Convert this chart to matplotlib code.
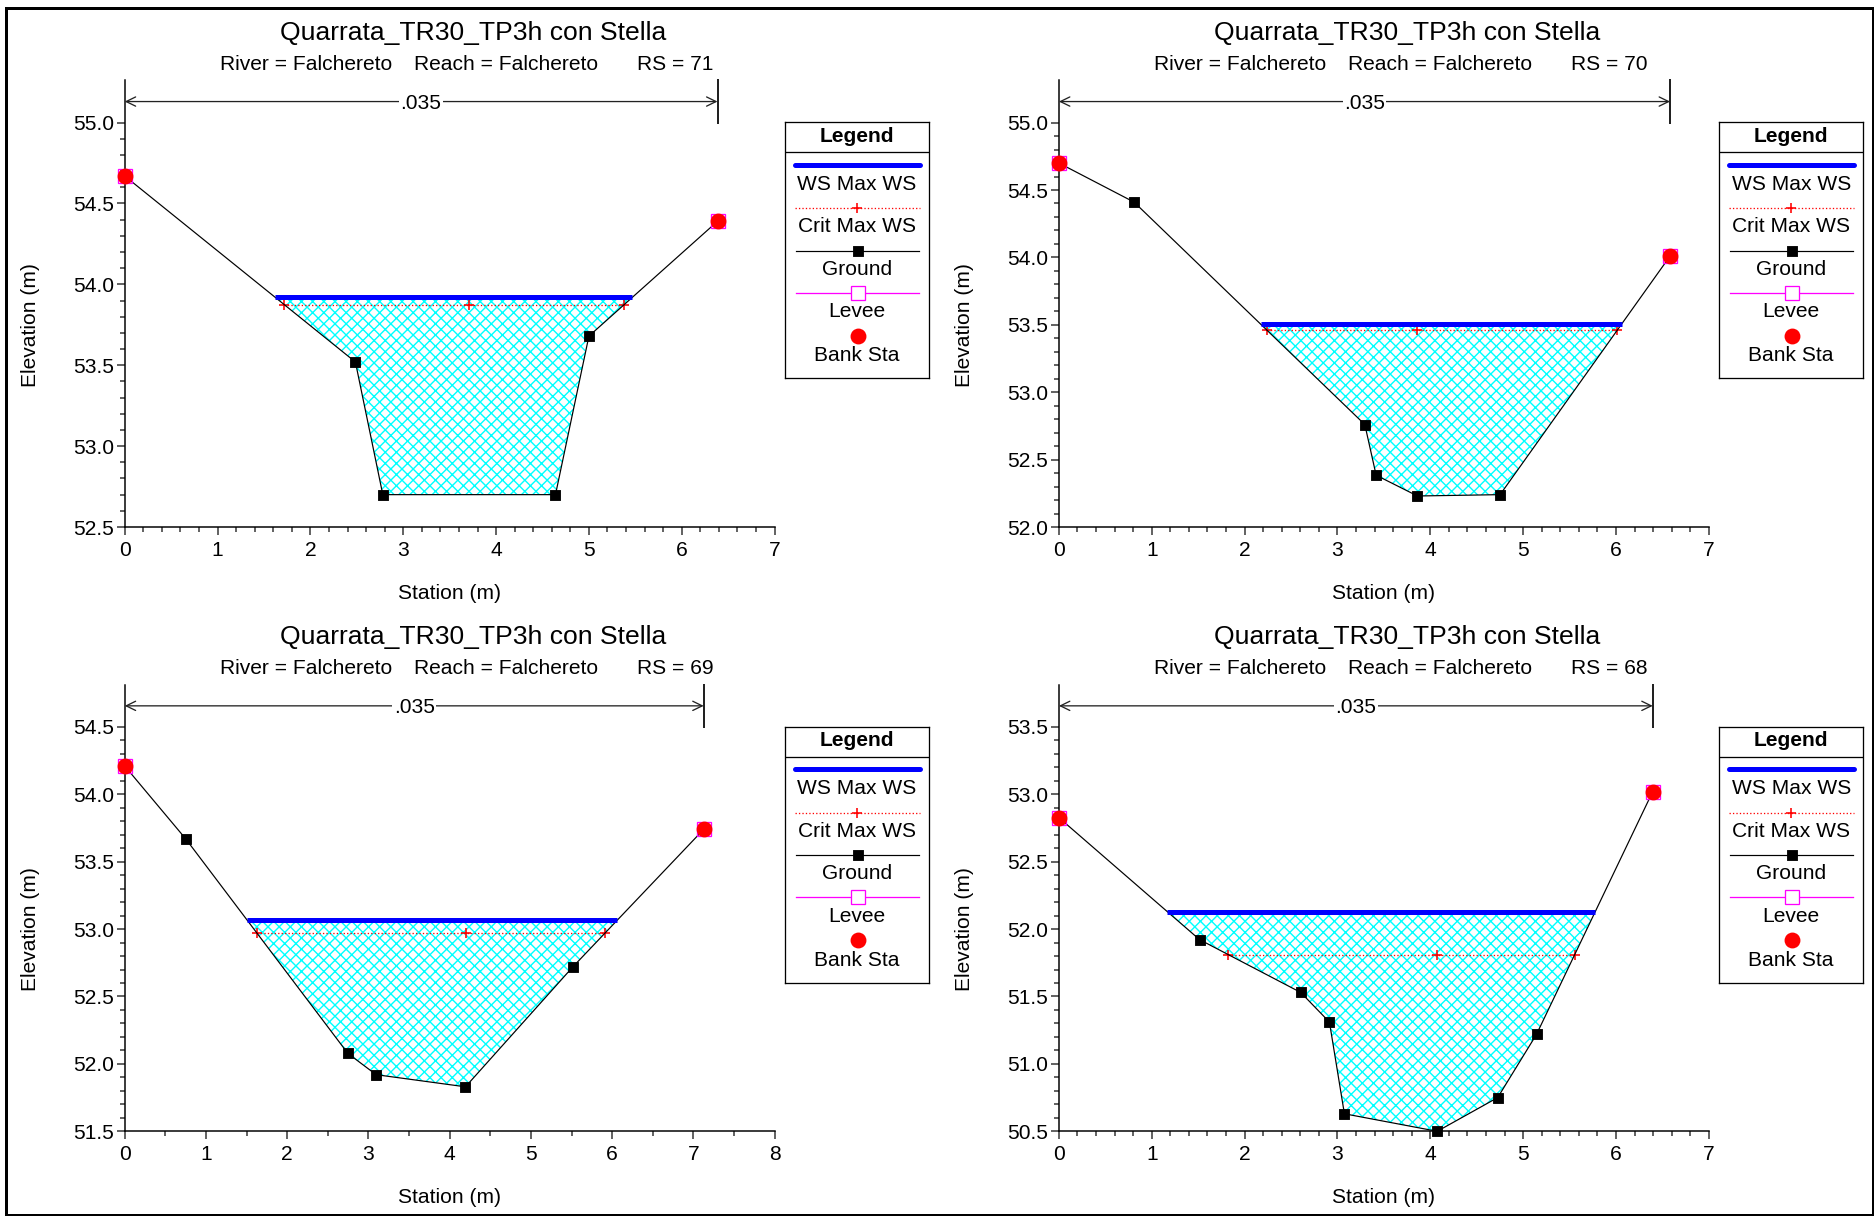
import numpy as np
import matplotlib
matplotlib.use("Agg")
import matplotlib.pyplot as plt
from matplotlib.patches import Rectangle

W, H = 1874, 1216
DPI = 134


def px(v):
    # pixels -> points
    return v * 72 / DPI


plt.rcParams['font.family'] = ['Liberation Sans', 'DejaVu Sans']
plt.rcParams['hatch.linewidth'] = px(1.4)
plt.rcParams['hatch.color'] = '#00FFFF'

#cross section data
plan = "Quarrata_TR30_TP3h con Stella"
river = "Falchereto"
reach = "Falchereto"
n_value = ".035"

rs_list = ["71", "70", "69", "68"]

sta_71 = [0.0, 2.485, 2.78, 4.64, 5.0, 6.385]
elev_71 = [54.67, 53.52, 52.70, 52.70, 53.68, 54.39]

sta_70 = [0.0, 0.81, 3.295, 3.417, 3.862, 4.752, 6.583]
elev_70 = [54.70, 54.41, 52.76, 52.384, 52.23, 52.24, 54.01]

sta_69 = [0.0, 0.753, 2.747, 3.095, 4.195, 5.517, 7.127]
elev_69 = [54.21, 53.668, 52.078, 51.92, 51.83, 52.72, 53.74]

sta_68 = [0.0, 1.515, 2.605, 2.914, 3.075, 4.075, 4.726, 5.145, 6.396]
elev_68 = [52.827, 51.922, 51.53, 51.31, 50.63, 50.50, 50.75, 51.22, 53.02]

ws_max = [53.92, 53.506, 53.066, 52.13]
crit_max = [53.875, 53.46, 52.97, 51.81]
crit_mid = [3.71, 3.862, 4.20, 4.075]

y_min = [52.5, 52.0, 51.5, 50.5]
y_max = [55.0, 55.0, 54.5, 53.5]
x_max = [7, 7, 8, 7]
x_minor = [0.2, 0.2, 0.5, 0.2]

legend_labels = ["WS Max WS", "Crit Max WS", "Ground", "Levee", "Bank Sta"]

BLUE = '#0000FF'
RED = '#FF0000'
CYAN = '#00FFFF'
MAGENTA = '#FF00FF'

FS = px(21)      # normal text
FS_T = px(26.5)  # plot title

fig = plt.figure(figsize=(W / DPI + 1e-6, H / DPI + 1e-6), dpi=DPI)


#axes from pixel box (top-left origin)
def add_ax(left, top, right, bottom):
    return fig.add_axes([left / W, 1 - bottom / H, (right - left) / W, (bottom - top) / H])


def crossings(sta, elev, level):
    xs = []
    for i in range(len(sta) - 1):
        e0, e1 = elev[i], elev[i + 1]
        if (e0 - level) * (e1 - level) < 0:
            xs.append(sta[i] + (level - e0) / (e1 - e0) * (sta[i + 1] - sta[i]))
    return xs[0], xs[-1]


def draw_panel(ox, oy, rs, sta, elev, ws, crit, cmid, ymin, ymaxm, xmax, xmin_step):
    sta = np.array(sta)
    elev = np.array(elev)
    ax = add_ax(124.7 + ox, 80.5 + oy, 774.6 + ox, 527 + oy)
    ytop = ymaxm + (ymaxm - ymin) * 42.1 / 404.4
    ax.set_xlim(0, xmax)
    ax.set_ylim(ymin, ytop)

    #water area (hatch cell ~11 px)
    ax.fill_between(sta, elev, ws, where=elev < ws, interpolate=True,
                    facecolor='none', edgecolor=CYAN, hatch='xxxx', linewidth=0, zorder=1)

    #crit
    cl, cr = crossings(sta, elev, crit)
    ax.plot([cl, cr], [crit, crit], color=RED, ls=':', lw=px(1.3), zorder=2)
    ax.plot([cl, cmid, cr], [crit] * 3, ls='none', marker='+', ms=px(10), mew=px(1.6),
            color=RED, zorder=3)

    #ws
    wl, wr = crossings(sta, elev, ws)
    ax.plot([wl, wr], [ws, ws], color=BLUE, lw=px(5), solid_capstyle='butt', zorder=5)

    #ground, levee, bank stations
    ax.plot(sta, elev, color='black', lw=px(1.2), marker='s', ms=px(9), zorder=4, clip_on=False)
    ax.plot(sta[[0, -1]], elev[[0, -1]], ls='none', marker='s', ms=px(14), mfc='none',
            mec=MAGENTA, mew=px(1.3), zorder=6, clip_on=False)
    ax.plot(sta[[0, -1]], elev[[0, -1]], ls='none', marker='o', ms=px(14), color=RED,
            mec=RED, zorder=7, clip_on=False)

    #n value band
    ya = (ymaxm + ytop) / 2
    ax.annotate('', xy=(0, ya), xytext=(sta[-1], ya),
                arrowprops=dict(arrowstyle='<->,head_length=0.45,head_width=0.22',
                                lw=px(1.3), color='#222222', shrinkA=0, shrinkB=0,
                                mutation_scale=px(21)), zorder=8)
    ax.plot([sta[-1], sta[-1]], [ymaxm, ytop], color='#222222', lw=px(2), zorder=8, clip_on=False)
    ax.text(sta[-1] / 2, ya, n_value, ha='center', va='center_baseline', fontsize=FS, zorder=9,
            bbox=dict(facecolor='white', edgecolor='none', pad=px(1.5)))

    #axes styling
    for s in ['top', 'right']:
        ax.spines[s].set_visible(False)
    for s in ['left', 'bottom']:
        ax.spines[s].set_linewidth(px(1.5))
    ax.set_yticks(np.arange(ymin, ymaxm + 0.01, 0.5))
    ax.set_yticks(np.arange(ymin, ymaxm + 0.01, 0.1), minor=True)
    ax.set_yticklabels(['%.1f' % v for v in np.arange(ymin, ymaxm + 0.01, 0.5)])
    ax.set_xticks(np.arange(0, xmax + 1))
    ax.set_xticks(np.arange(0, xmax + 0.01, xmin_step), minor=True)
    ax.tick_params(which='major', direction='out', length=px(8), width=px(1.5),
                   labelsize=FS, color='#333333')
    ax.tick_params(which='minor', direction='out', length=px(5), width=px(1.5), color='#333333')
    ax.tick_params(axis='y', pad=px(2.8))
    ax.tick_params(axis='x', pad=px(5.6))

    ax.set_xlabel("Station (m)", fontsize=FS)
    ax.xaxis.set_label_coords(0.5, -(593 - 527) / 446.5)
    ax.xaxis.label.set_va('center')
    ax.set_ylabel("Elevation (m)", fontsize=FS)
    ax.yaxis.set_label_coords((30 - 124.7) / 649.9, (527 - 325) / 446.5)
    ax.yaxis.label.set_va('center')

    #titles
    fig.text((472.8 + ox) / W, 1 - (40 + oy) / H, plan, fontsize=FS_T, ha='center', va='baseline')
    sub_y = 1 - (70 + oy) / H
    fig.text((220 + ox) / W, sub_y, "River = " + river, fontsize=FS, va='baseline')
    fig.text((413.7 + ox) / W, sub_y, "Reach = " + reach, fontsize=FS, va='baseline')
    fig.text((637 + ox) / W, sub_y, "RS = " + rs, fontsize=FS, va='baseline')

    #legend box
    lg = add_ax(785 + ox, 122.3 + oy, 929 + ox, 378.3 + oy)
    lg.set_xlim(0, 144)
    lg.set_ylim(256, 0)
    lg.set_xticks([])
    lg.set_yticks([])
    for s in lg.spines.values():
        s.set_linewidth(px(1.3))
    lg.plot([0, 144], [30, 30], color='black', lw=px(1.3))
    lg.text(72, 14, "Legend", ha='center', va='center', fontsize=FS, fontweight='bold')
    lg.plot([10, 135], [42.7, 42.7], color=BLUE, lw=px(5), solid_capstyle='round')
    lg.plot([10, 135], [86, 86], color=RED, ls=':', lw=px(1.3))
    lg.plot([72], [86], marker='+', ms=px(10), mew=px(1.6), color=RED)
    lg.plot([11, 134], [128.4, 128.4], color='black', lw=px(1.2))
    lg.plot([72.5], [128.4], marker='s', ms=px(9), color='black')
    lg.plot([11, 134], [170.7, 170.7], color=MAGENTA, lw=px(1.3))
    lg.plot([72.5], [170.7], marker='s', ms=px(14), mfc='white', mec=MAGENTA, mew=px(1.3))
    lg.plot([72.5], [213.4], marker='o', ms=px(14), color=RED)
    for lab, yy in zip(legend_labels, [61.7, 104.4, 146.7, 189.4, 233.4]):
        lg.text(72, yy, lab, ha='center', va='center', fontsize=FS)
    return ax


stations = [sta_71, sta_70, sta_69, sta_68]
elevations = [elev_71, elev_70, elev_69, elev_68]
offsets = [(0, 0), (934.2, 0), (0, 604.3), (934.2, 604.3)]

for i in range(4):
    ox, oy = offsets[i]
    draw_panel(ox, oy, rs_list[i], stations[i], elevations[i], ws_max[i], crit_max[i],
               crit_mid[i], y_min[i], y_max[i], x_max[i], x_minor[i])

#outer frame
fig.patches.append(Rectangle((5.5 / W, 1 / H), (1873 - 5.5) / W, (1208 - 1) / H,
                             transform=fig.transFigure, fill=False, lw=px(3),
                             edgecolor='black'))

fig.savefig("out.png", dpi=DPI)
